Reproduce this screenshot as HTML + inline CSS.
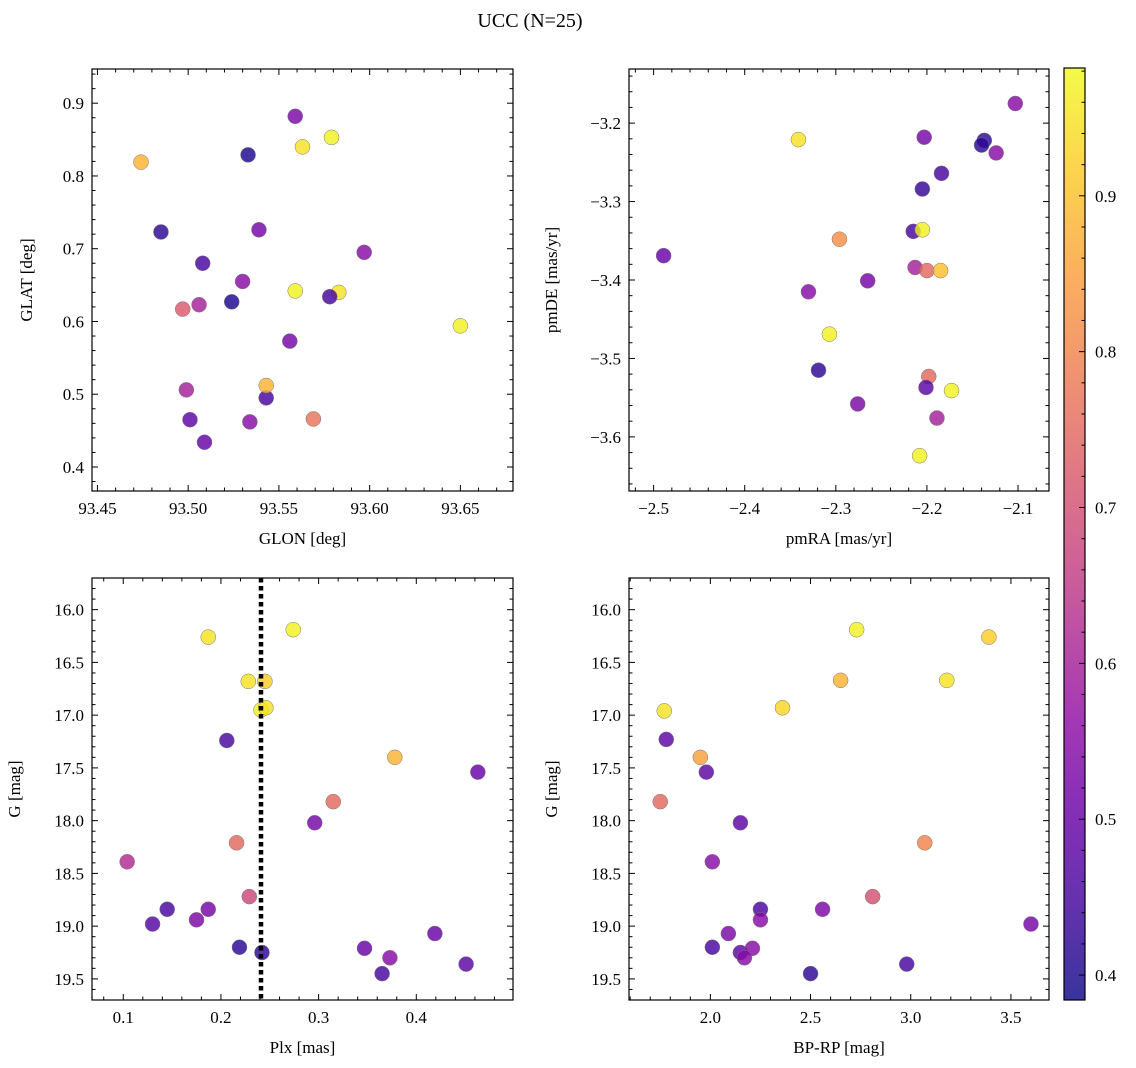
<!DOCTYPE html>
<html><head><meta charset="utf-8"><style>
body{margin:0;background:#fff}
svg{display:block;font-family:"Liberation Serif",serif}
</style></head><body>
<svg id="s" width="1136" height="1068">
<text x="530" y="27" font-size="20" text-anchor="middle">UCC (N=25)</text>
</svg>
<script>
// ---- data ----
const tlGlon=[93.474,93.485,93.508,93.497,93.506,93.524,93.530,93.533,93.539,93.559,93.563,93.579,93.559,93.583,93.578,93.597,93.556,93.650,93.499,93.501,93.509,93.534,93.543,93.543,93.569];
const tlGlat=[0.819,0.723,0.680,0.617,0.623,0.627,0.655,0.829,0.726,0.882,0.840,0.853,0.642,0.640,0.634,0.695,0.573,0.594,0.506,0.465,0.434,0.462,0.495,0.512,0.466];
const tlProb=[0.88,0.42,0.45,0.72,0.6,0.4,0.55,0.4,0.52,0.53,0.95,0.97,0.97,0.95,0.45,0.55,0.52,0.97,0.6,0.48,0.5,0.55,0.45,0.88,0.77];
const trPmra=[-2.341,-2.203,-2.137,-2.140,-2.103,-2.124,-2.184,-2.205,-2.215,-2.205,-2.296,-2.489,-2.213,-2.200,-2.185,-2.265,-2.330,-2.307,-2.319,-2.198,-2.201,-2.173,-2.276,-2.189,-2.208];
const trPmde=[-3.221,-3.218,-3.222,-3.228,-3.175,-3.238,-3.264,-3.284,-3.338,-3.336,-3.348,-3.369,-3.384,-3.388,-3.388,-3.401,-3.415,-3.469,-3.515,-3.523,-3.537,-3.541,-3.558,-3.576,-3.624];
const trProb=[0.95,0.52,0.42,0.42,0.55,0.55,0.45,0.43,0.45,0.97,0.82,0.5,0.6,0.75,0.9,0.52,0.55,0.97,0.42,0.75,0.48,0.97,0.53,0.6,0.97];
const blPlx=[0.187,0.274,0.228,0.245,0.241,0.246,0.206,0.378,0.463,0.315,0.296,0.216,0.104,0.229,0.145,0.187,0.130,0.175,0.219,0.242,0.347,0.419,0.373,0.365,0.451];
const blG=[16.26,16.19,16.68,16.68,16.95,16.93,17.24,17.40,17.54,17.82,18.02,18.21,18.39,18.72,18.84,18.84,18.98,18.94,19.20,19.25,19.21,19.07,19.30,19.45,19.36];
const blProb=[0.95,0.97,0.95,0.92,0.97,0.95,0.45,0.88,0.5,0.75,0.52,0.75,0.62,0.68,0.45,0.52,0.47,0.53,0.42,0.42,0.5,0.5,0.55,0.45,0.48];
const brBprp=[2.73,3.39,2.65,3.18,2.36,1.77,1.78,1.95,1.98,1.75,2.15,2.01,3.07,2.81,2.25,2.25,2.56,2.09,3.60,2.01,2.15,2.21,2.17,2.50,2.98];
const brG=[16.19,16.26,16.67,16.67,16.93,16.96,17.23,17.40,17.54,17.82,18.02,18.39,18.21,18.72,18.84,18.94,18.84,19.07,18.98,19.20,19.25,19.21,19.30,19.45,19.36];
const brProb=[0.97,0.92,0.88,0.95,0.93,0.95,0.48,0.85,0.48,0.75,0.48,0.55,0.8,0.7,0.45,0.55,0.53,0.53,0.52,0.45,0.48,0.55,0.55,0.42,0.45];
const plxLine=0.241;
const cbTicks=[0.4,0.5,0.6,0.7,0.8,0.9];
const cbMin=0.384, cbMax=0.982;
// ---- end data ----
const NS="http://www.w3.org/2000/svg";
const svg=document.getElementById('s');
function mk(t,a,p){const e=document.createElementNS(NS,t);for(const k in a)e.setAttribute(k,a[k]);(p||svg).appendChild(e);return e;}
const stops=[[13,8,135],[65,4,157],[106,0,168],[143,13,164],[177,42,144],[204,71,120],[225,100,98],[242,132,75],[252,166,54],[252,206,37],[240,249,33]];
function plasma(t){t=Math.max(0,Math.min(1,t))*10;const i=Math.min(9,Math.floor(t)),f=t-i;const a=stops[i],b=stops[i+1];
return 'rgb('+a.map((v,k)=>Math.round(v+(b[k]-v)*f)).join(',')+')';}
function cnorm(p){return (p-cbMin)/(cbMax-cbMin);}
function ticks(min,max,step,sub){const ms=step/sub;const out=[];const n0=Math.ceil(min/ms-1e-6),n1=Math.floor(max/ms+1e-6);
 for(let n=n0;n<=n1;n++){out.push({v:n*ms,major:((n%sub)+sub)%sub===0});}return out;}
function panel(o){
 const g=mk('g',{});
 
 
 const X=v=>o.x0+(v-o.xmin)/(o.xmax-o.xmin)*(o.x1-o.x0);
 const Y=o.inv?(v=>o.y0+(v-o.ymin)/(o.ymax-o.ymin)*(o.y1-o.y0)):(v=>o.y1-(v-o.ymin)/(o.ymax-o.ymin)*(o.y1-o.y0));
 const cp=mk('clipPath',{id:'c'+o.name},g);mk('rect',{x:o.x0,y:o.y0,width:o.x1-o.x0,height:o.y1-o.y0},cp);
 const pts=mk('g',{'clip-path':'url(#c'+o.name+')'},g);
 for(let i=0;i<o.xs.length;i++){
  const c=mk('circle',{cx:X(o.xs[i]),cy:Y(o.ys[i]),r:7.5,fill:plasma(cnorm(o.ps[i])),'fill-opacity':0.82,stroke:'#777','stroke-width':0.5},pts);
  
  
 }
 if(o.vline!==undefined){const l=mk('line',{x1:X(o.vline),x2:X(o.vline),y1:o.y0,y2:o.y1,stroke:'#000','stroke-width':4.5,'stroke-dasharray':'4.5,3.5'},g);
  }
 mk('rect',{x:o.x0,y:o.y0,width:o.x1-o.x0,height:o.y1-o.y0,fill:'none',stroke:'#000','stroke-width':1.2},g);
 ticks(o.xmin,o.xmax,o.xstep,o.xsub).forEach(t=>{const L=t.major?6:3.5;const x=X(t.v);
  mk('line',{x1:x,x2:x,y1:o.y1,y2:o.y1-L,stroke:'#000'},g);mk('line',{x1:x,x2:x,y1:o.y0,y2:o.y0+L,stroke:'#000'},g);
  if(t.major){const e=mk('text',{x:x,y:o.y1+23,'font-size':17,'text-anchor':'middle'},g);e.textContent=(t.v<-1e-9?'\u2212':'')+Math.abs(t.v).toFixed(o.xdec);}
 });
 ticks(o.ymin,o.ymax,o.ystep,o.ysub).forEach(t=>{const L=t.major?6:3.5;const y=Y(t.v);
  mk('line',{x1:o.x0,x2:o.x0+L,y1:y,y2:y,stroke:'#000'},g);mk('line',{x1:o.x1,x2:o.x1-L,y1:y,y2:y,stroke:'#000'},g);
  if(t.major){const e=mk('text',{x:o.x0-8,y:y+6,'font-size':17,'text-anchor':'end'},g);e.textContent=(t.v<-1e-9?'\u2212':'')+Math.abs(t.v).toFixed(o.ydec);}
 });
 const xl=mk('text',{x:(o.x0+o.x1)/2,y:o.y1+53,'font-size':17,'text-anchor':'middle'},g);xl.textContent=o.xlab;
 
 const yx=o.x0-o.ylabOff,yy=(o.y0+o.y1)/2;
 const yl=mk('text',{x:yx,y:yy,'font-size':17,'text-anchor':'middle',transform:'rotate(-90 '+yx+' '+yy+')'},g);yl.textContent=o.ylab;
 
}
panel({name:'glon-glat-panel',x0:92,x1:513,y0:69,y1:491,xmin:93.447,xmax:93.679,ymin:0.367,ymax:0.947,xstep:0.05,xsub:5,xdec:2,ystep:0.1,ysub:5,ydec:1,xs:tlGlon,ys:tlGlat,ps:tlProb,xlab:'GLON [deg]',ylab:'GLAT [deg]',ylabOff:60});
panel({name:'pm-panel',x0:629,x1:1049,y0:69,y1:491,xmin:-2.527,xmax:-2.066,ymin:-3.669,ymax:-3.131,xstep:0.1,xsub:5,xdec:1,ystep:0.1,ysub:5,ydec:1,xs:trPmra,ys:trPmde,ps:trProb,xlab:'pmRA [mas/yr]',ylab:'pmDE [mas/yr]',ylabOff:72});
panel({name:'plx-g-panel',x0:92,x1:513,y0:578,y1:1000,inv:true,xmin:0.068,xmax:0.499,ymin:15.70,ymax:19.70,xstep:0.1,xsub:5,xdec:1,ystep:0.5,ysub:5,ydec:1,xs:blPlx,ys:blG,ps:blProb,xlab:'Plx [mas]',ylab:'G [mag]',ylabOff:72,vline:plxLine});
panel({name:'cmd-panel',x0:629,x1:1049,y0:578,y1:1000,inv:true,xmin:1.594,xmax:3.69,ymin:15.70,ymax:19.70,xstep:0.5,xsub:5,xdec:1,ystep:0.5,ysub:5,ydec:1,xs:brBprp,ys:brG,ps:brProb,xlab:'BP-RP [mag]',ylab:'G [mag]',ylabOff:72});
// colorbar
const cb=mk('g',{});


const gr=mk('linearGradient',{id:'pg',x1:0,y1:1,x2:0,y2:0},cb);
for(let i=0;i<=20;i++){const v=cbMin+(cbMax-cbMin)*i/20;mk('stop',{offset:i/20,'stop-color':plasma(cnorm(v)),'stop-opacity':0.82},gr);}
const cbx0=1064,cbx1=1085,cby0=68,cby1=1000;
mk('rect',{x:cbx0,y:cby0,width:cbx1-cbx0,height:cby1-cby0,fill:'url(#pg)',stroke:'#000','stroke-width':1.2},cb);
const CY=v=>cby1-(v-cbMin)/(cbMax-cbMin)*(cby1-cby0);
ticks(cbMin,cbMax,0.1,5).forEach(t=>{const y=CY(t.v);mk('line',{x1:cbx1,x2:cbx1-(t.major?6:3.5),y1:y,y2:y,stroke:'#000'},cb);});
cbTicks.forEach(v=>{const t=mk('text',{x:1095,y:CY(v)+6,'font-size':17},cb);t.textContent=v.toFixed(1);});
</script>
</body></html>
